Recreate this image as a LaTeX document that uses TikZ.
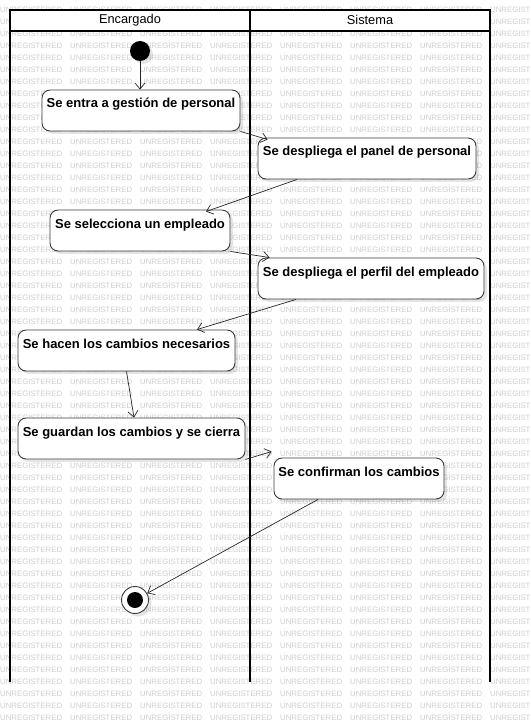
\documentclass[tikz,border=0pt]{standalone}
\usepackage{fontspec}
\setmainfont{Liberation Sans}
\usepackage{tikz}
\usetikzlibrary{
arrows.meta,
shadows,
}
\definecolor{wmgray}{RGB}{205,205,205}
\definecolor{boxline}{RGB}{60,60,60}
\tikzset{lane/.style = {line width=2pt, black}}
\tikzset{lanehead/.style = {font=\fontsize{12.8}{14}\selectfont, inner sep=0pt}}
\tikzset{wm/.style = {anchor=west, inner sep=0pt, text=wmgray, font=\fontsize{7.8}{8}\selectfont}}
\tikzset{act/.style = {shape=rectangle, draw=boxline, line width=0.9pt, fill=white, rounded corners=8pt,
  inner xsep=0pt, inner ysep=0pt, text height=18pt, text depth=23pt,
  font=\fontsize{13}{15}\bfseries,
  drop shadow={shadow xshift=3pt, shadow yshift=-3pt, opacity=0.10, fill=black}}}
\tikzset{edge/.style = {draw=black!85, line width=0.7pt, -{Straight Barb[length=6pt,width=10pt]}}}

\begin{document}
\begin{tikzpicture}[x=1pt,y=-1pt]
\useasboundingbox (0,0) rectangle (530,722);
% watermark
\foreach \r in {-1,...,59}
  \foreach \c in {0,...,7}
    \node[wm] (wm-\r-\c) at (\c*70, 9.7+\r*12) {UNREGISTERED};
%
% swimlanes
\fill[white] (10,10) rectangle (490,31);
\draw[lane] (10,682) -- (10,10) -- (490,10) -- (490,682);
\draw[lane] (250,10) -- (250,682);
\draw[lane] (10,31) -- (490,31);
\node[lanehead] (encargado) at (130,20) {Encargado};
\node[lanehead] (sistema) at (370,20) {Sistema};
%
% activities
\node[shape=circle, fill=black, minimum size=20pt, inner sep=0pt,
  drop shadow={shadow xshift=3pt, shadow yshift=-3pt, opacity=0.10, fill=black}] (ini) at (140,51) {};
\node[act, minimum width=198pt] (entra) at (141,110.5) {Se entra a gestión de personal};
\node[act, minimum width=218pt] (panel) at (367,158.5) {Se despliega el panel de personal};
\node[act, minimum width=180pt] (selecciona) at (140,230.5) {Se selecciona un empleado};
\node[act, minimum width=226pt] (perfil) at (371,278.5) {Se despliega el perfil del empleado};
\node[act, minimum width=217pt] (hacen) at (126.5,350.5) {Se hacen los cambios necesarios};
\node[act, minimum width=227pt] (guardan) at (131.5,438.5) {Se guardan los cambios y se cierra};
\node[act, minimum width=170pt] (confirman) at (359,478.5) {Se confirman los cambios};
\node[shape=circle, draw=boxline, line width=0.9pt, fill=white, minimum size=27pt, inner sep=0pt,
  drop shadow={shadow xshift=3pt, shadow yshift=-3pt, opacity=0.10, fill=black},
  path picture={\fill[black] (path picture bounding box.center) circle (8pt);}] (fin) at (135,600) {};
%
% transitions
\draw[edge] (ini) -- (ini |- entra.north);
\draw[edge] (entra.south east) -- ([xshift=10pt,yshift=-2pt]panel.north west);
\draw[edge] ([xshift=-70pt]panel.south) -- ([xshift=66pt,yshift=-2pt]selecciona.north);
\draw[edge] (selecciona.south east) -- ([xshift=12pt]perfil.north west);
\draw[edge] ([xshift=-75pt]perfil.south) -- ([xshift=70.5pt]hacen.north);
\draw[edge] (hacen.south) -- ([xshift=2.5pt]guardan.north);
\draw[edge] (guardan.south east) -- ([xshift=-2pt,yshift=6pt]confirman.north west);
\draw[edge] ([xshift=-41pt]confirman.south) -- (fin);
\end{tikzpicture}
\end{document}
